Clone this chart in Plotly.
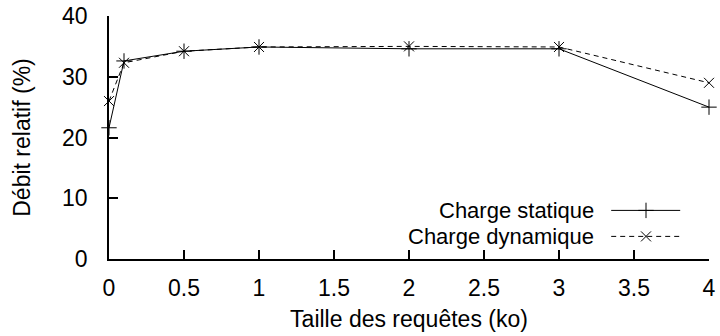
import plotly.graph_objects as go

taille = [0, 0.1, 0.5, 1, 2, 3, 4]
statique = [21.6, 32.6, 34.2, 34.9, 34.6, 34.6, 25.0]
dynamique = [26.0, 32.3, 34.2, 34.9, 35.0, 34.9, 29.0]
noms = ["Charge statique", "Charge dynamique"]

FONT = "Liberation Sans, Arial, sans-serif"
FS = 23
fig = go.Figure()
fig.add_trace(go.Scatter(x=taille, y=statique, mode="lines+markers", name=noms[0],
                         line=dict(color="black", width=1),
                         marker=dict(symbol="cross-thin", size=11, line=dict(color="black", width=1)),
                         cliponaxis=False, showlegend=False))
fig.add_trace(go.Scatter(x=taille, y=dynamique, mode="lines+markers", name=noms[1],
                         line=dict(color="black", width=1, dash="5px,4px"),
                         marker=dict(symbol="x-thin", size=10, line=dict(color="black", width=1)),
                         cliponaxis=False, showlegend=False))

# legend samples on an overlay axis with unit range
leg_y = [0.200, 0.093]
for i, (sym, dash) in enumerate([("cross-thin", "solid"), ("x-thin", "5px,4px")]):
    fig.add_trace(go.Scatter(x=[0.837, 0.952], y=[leg_y[i], leg_y[i]], mode="lines",
                             line=dict(color="black", width=1, dash=dash),
                             xaxis="x2", yaxis="y2", showlegend=False, hoverinfo="skip"))
    fig.add_trace(go.Scatter(x=[0.895], y=[leg_y[i]], mode="markers",
                             marker=dict(symbol=sym, size=11 if i == 0 else 10, line=dict(color="black", width=1)),
                             xaxis="x2", yaxis="y2", showlegend=False, hoverinfo="skip"))
    fig.add_annotation(x=0.81, y=leg_y[i], xref="x2", yref="y2", text=noms[i],
                       showarrow=False, xanchor="right", yanchor="middle",
                       borderpad=0,
                       font=dict(family=FONT, size=22, color="black"))

fig.update_layout(
    width=720, height=336,
    margin=dict(l=109, r=11, t=16, b=77),
    paper_bgcolor="white", plot_bgcolor="white",
    font=dict(family=FONT, size=FS, color="black"),
    xaxis=dict(range=[0, 4], tickmode="linear", tick0=0, dtick=0.5,
               ticks="inside", ticklen=9, tickwidth=1.5, tickcolor="black",
               showline=True, linecolor="black", linewidth=1.5, showgrid=False, zeroline=False,
               ticklabelstandoff=8, automargin=False,
               title=dict(text="Taille des requêtes (ko)", standoff=11, font=dict(size=FS))),
    yaxis=dict(range=[0, 40], tickmode="linear", tick0=0, dtick=10,
               ticks="inside", ticklen=9, tickwidth=1.5, tickcolor="black",
               showline=True, linecolor="black", linewidth=1.5, showgrid=False, zeroline=False,
               ticklabelstandoff=15, automargin=False,
               title=dict(text="Débit relatif (%)", standoff=25, font=dict(size=FS))),
    xaxis2=dict(range=[0, 1], overlaying="x", visible=False, fixedrange=True),
    yaxis2=dict(range=[0, 1], overlaying="y", visible=False, fixedrange=True),
)

fig.write_html("out.html")
